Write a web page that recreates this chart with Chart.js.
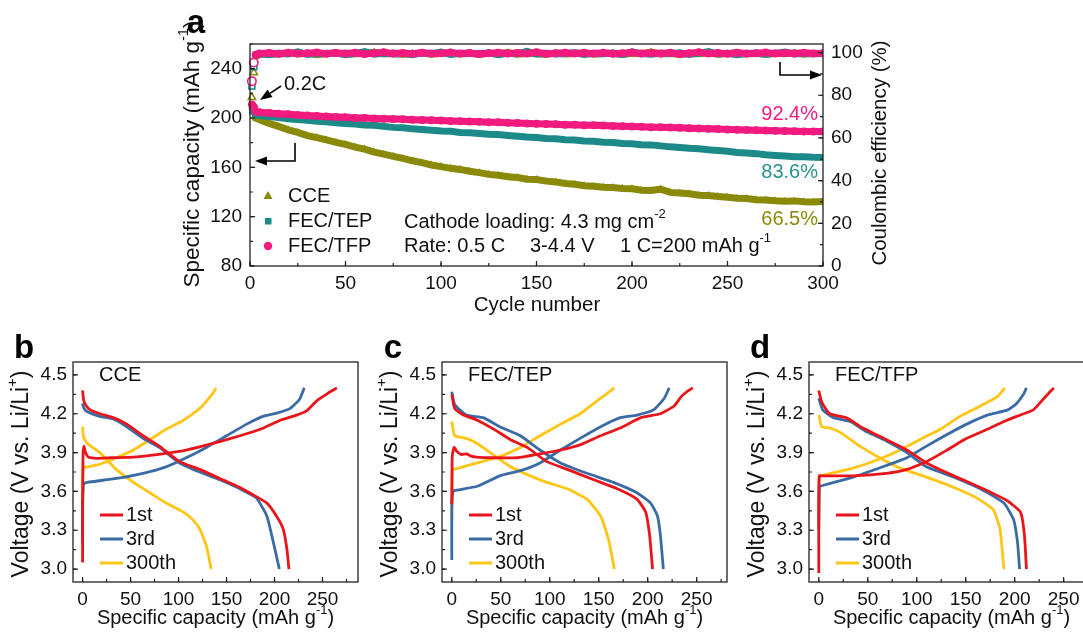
<!DOCTYPE html>
<html>
<head>
<meta charset="utf-8">
<script src="https://cdn.jsdelivr.net/npm/chart.js@4.4.0/dist/chart.umd.min.js"></script>
<style>
  body { margin: 0; background: #fff; width: 1083px; height: 633px; overflow: hidden; position: relative; }
  canvas { position: absolute; }
</style>
</head>
<body>
<canvas id="chart_a" width="790" height="330" style="left:160px;top:0px"></canvas>
<canvas id="chart_b" width="365" height="303" style="left:0px;top:330px"></canvas>
<canvas id="chart_c" width="365" height="303" style="left:369px;top:330px"></canvas>
<canvas id="chart_d" width="365" height="303" style="left:736px;top:330px"></canvas>
<script>
// Panel a: cycling data (cycles 1-2 at 0.2C, then 0.5C)
var cycles = [1,2,3,5,10,15,20,25,30,35,40,45,50,55,60,65,70,75,80,85,90,95,100,105,110,115,120,125,130,135,140,145,150,155,160,165,170,175,180,185,190,195,200,205,210,215,220,225,230,235,240,245,250,255,260,265,270,275,280,285,290,295,300];

var cceCap = [209,207,200,198.5,195.6,193.2,190.4,188.3,185.7,184.1,182.2,180.3,178.6,176.4,174.8,172.3,170.7,168.9,167.2,165.3,163.8,161.9,160.6,159.2,158.3,156.8,155.7,154.3,153.6,152.4,151.7,150.4,150.1,148.8,148.2,146.9,146.3,145.1,144.7,143.8,143.6,142.8,142.6,141.4,141.2,142.3,139.7,139.1,138.6,137.4,137.2,136.3,135.8,134.9,134.7,133.8,133.6,132.9,132.6,132.8,132.1,131.9,132.2];
var tepCap = [205,206,202.5,202.1,201.2,200.3,199.4,198.7,198.1,197.3,196.9,196.2,195.6,195.1,194.3,194.1,193.2,192.4,192.1,191.2,190.6,190.1,189.4,189.2,188.3,188.1,187.4,186.8,186.6,185.9,185.2,184.6,184.2,183.4,183.1,182.4,182.2,181.3,181.1,180.4,180.2,179.4,179.1,178.3,178.2,177.4,176.6,176.1,175.4,175.1,174.2,173.6,173.1,172.1,171.6,171.1,170.2,169.6,169.1,168.6,168.5,168.1,167.9];
var tfpCap = [211,209,205.2,204.6,204.1,203.5,203.1,202.4,202.1,201.6,201.2,200.9,200.6,200.1,199.9,199.6,199.4,199.1,198.9,198.6,198.4,198.1,197.9,197.6,197.4,197.1,196.9,196.6,196.5,196.1,195.9,195.6,195.4,195.2,194.9,194.6,194.5,194.2,194.1,193.9,193.6,193.4,193.1,192.9,192.6,192.5,192.2,192.0,191.7,191.5,191.2,191.0,190.7,190.5,190.2,190.0,189.8,189.6,189.5,189.3,189.1,189.0,189.0];

var cceCE = [79.0,90.6,98.2,99.1,99.6,99.2,99.8,99.3,99.7,99.0,99.5,99.9,99.2,99.6,99.4,100.1,99.3,99.7,99.1,99.6,99.8,99.2,99.5,99.9,99.3,99.6,99.1,99.7,99.4,100.0,99.2,99.6,99.5,99.1,99.8,99.3,99.6,99.9,99.2,99.5,99.7,99.1,99.6,99.4,100.2,99.3,99.6,99.0,99.7,99.4,99.8,99.2,99.5,99.9,99.3,99.6,99.1,99.7,99.4,99.8,99.2,99.5,99.6];
var tepCE = [84.3,93.4,98.6,99.4,99.0,99.7,99.3,100.3,99.1,99.6,99.4,99.8,99.0,99.5,100.4,99.2,99.7,99.3,99.6,99.0,99.8,99.4,100.2,99.1,99.5,99.7,99.3,99.9,99.0,99.6,99.4,100.5,99.2,99.7,99.3,99.5,99.9,99.1,99.6,99.4,99.8,99.0,100.3,99.5,99.2,99.7,99.4,99.9,99.1,99.6,100.4,99.3,99.7,99.0,99.5,99.8,99.2,99.6,100.2,99.3,99.7,99.4,99.5];
var tfpCE = [86.6,95.3,99.0,99.6,99.8,99.4,99.9,99.5,99.7,100.0,99.4,99.8,99.6,99.9,99.3,99.7,100.1,99.5,99.8,99.4,99.9,99.6,99.7,100.0,99.5,99.8,99.3,99.7,99.9,99.5,99.8,99.6,100.1,99.4,99.7,99.9,99.5,99.8,99.6,99.9,99.4,99.7,100.0,99.5,99.8,99.6,99.9,99.3,99.7,100.1,99.5,99.8,99.4,99.9,99.6,99.7,100.0,99.5,99.8,99.6,99.9,99.5,99.7];

var cycleTicks = [0,50,100,150,200,250,300];
var capTicks = [80,120,160,200,240];
var ceTicks = [0,20,40,60,80,100];

// Panels b-d: voltage profiles [capacity, voltage]; C = charge, D = discharge
var cceC1 = [[0,3.05],[0,3.5],[0.5,3.9],[1.5,3.95],[3,3.9],[6,3.865],[15,3.855],[30,3.86],[53,3.865],[77,3.885],[101,3.91],[122,3.945],[143,3.985],[164,4.03],[185,4.08],[206,4.15],[223,4.19],[233,4.22],[244,4.3],[252,4.34],[258,4.37],[265,4.40]];
var cceD1 = [[0,4.38],[1,4.31],[3,4.27],[8,4.23],[18,4.2],[32,4.17],[46,4.12],[63,4.03],[80,3.95],[101,3.83],[122,3.77],[143,3.70],[164,3.63],[181,3.56],[192,3.51],[202,3.41],[209,3.31],[213,3.15],[215,3.0]];
var cceC3 = [[0,3.2],[0,3.45],[1,3.66],[5,3.67],[35,3.70],[63,3.74],[87,3.79],[108,3.86],[129,3.94],[150,4.03],[171,4.12],[188,4.18],[202,4.205],[216,4.24],[226,4.31],[231,4.40]];
var cceD3 = [[0,4.28],[1,4.25],[4,4.22],[18,4.18],[32,4.16],[46,4.10],[63,4.01],[80,3.94],[101,3.82],[122,3.75],[143,3.69],[164,3.62],[181,3.55],[192,3.41],[199,3.2],[205,3.0]];
var cceC300 = [[0,3.5],[0.5,3.78],[5,3.79],[18,3.81],[35,3.86],[53,3.92],[70,4.0],[87,4.08],[105,4.15],[122,4.24],[136,4.36],[139,4.40]];
var cceD300 = [[0,4.1],[1,4.02],[5,3.97],[18,3.9],[35,3.77],[53,3.67],[70,3.59],[87,3.51],[105,3.44],[115,3.38],[122,3.31],[129,3.18],[134,3.0]];

var tepC1 = [[0,3.5],[0.5,3.88],[2.4,3.94],[5,3.91],[10,3.885],[15,3.89],[19,3.875],[25,3.865],[43,3.86],[67,3.86],[90,3.89],[111,3.92],[131,3.96],[152,4.03],[172,4.09],[193,4.17],[213,4.2],[227,4.26],[234,4.33],[240,4.37],[246,4.40]];
var tepD1 = [[0,4.35],[3,4.24],[12,4.19],[26,4.15],[43,4.08],[60,4.0],[77,3.94],[97,3.83],[118,3.77],[145,3.69],[169,3.62],[189,3.54],[198,3.44],[202,3.26],[205,3.0]];
var tepC3 = [[0,3.07],[0,3.45],[1,3.6],[5,3.61],[26,3.64],[49,3.72],[70,3.76],[90,3.82],[111,3.92],[131,4.01],[152,4.1],[172,4.17],[189,4.19],[206,4.23],[217,4.32],[222,4.40]];
var tepD3 = [[0,4.37],[3,4.27],[15,4.19],[32,4.17],[49,4.1],[70,4.03],[90,3.92],[111,3.82],[138,3.74],[165,3.67],[189,3.59],[203,3.51],[210,3.41],[213,3.26],[216,3.0]];
var tepC300 = [[0,3.38],[0.5,3.77],[2,3.77],[26,3.82],[49,3.87],[70,3.94],[90,4.03],[111,4.12],[131,4.2],[152,4.32],[166,4.40]];
var tepD300 = [[0,4.14],[3,4.03],[15,4.01],[26,3.97],[43,3.88],[60,3.79],[77,3.73],[97,3.67],[118,3.62],[138,3.54],[152,3.41],[160,3.23],[166,3.0]];

var tfpC1 = [[0,2.97],[0,3.5],[0.5,3.72],[4,3.72],[35,3.72],[69,3.74],[90,3.77],[110,3.83],[131,3.92],[151,4.01],[172,4.08],[189,4.14],[202,4.18],[219,4.23],[230,4.32],[240,4.40]];
var tfpD1 = [[0,4.38],[3,4.29],[11,4.2],[28,4.17],[45,4.09],[69,4.0],[90,3.92],[110,3.82],[138,3.72],[165,3.63],[192,3.53],[206,3.44],[210,3.26],[212,3.0]];
var tfpC3 = [[0,3.31],[0.5,3.64],[1,3.64],[35,3.71],[69,3.8],[90,3.86],[110,3.95],[131,4.04],[151,4.12],[172,4.19],[193,4.23],[202,4.28],[209,4.35],[212,4.40]];
var tfpD3 = [[0,4.32],[4,4.23],[15,4.17],[32,4.14],[49,4.06],[69,3.99],[90,3.9],[110,3.79],[138,3.71],[165,3.62],[189,3.51],[199,3.38],[203,3.2],[205,3.0]];
var tfpC300 = [[0,3.41],[0.5,3.72],[1,3.72],[35,3.78],[62,3.85],[83,3.92],[103,4.0],[124,4.08],[144,4.18],[165,4.26],[182,4.33],[190,4.40]];
var tfpD300 = [[0,4.19],[3,4.1],[11,4.09],[21,4.06],[42,3.95],[62,3.86],[83,3.78],[110,3.71],[138,3.63],[161,3.55],[178,3.46],[185,3.31],[189,3.0]];

var capxTicks = [0,50,100,150,200,250];
var voltTicks = [3.0,3.3,3.6,3.9,4.2,4.5];

var FONT = "'Liberation Sans', Arial, sans-serif";
var OLIVE = '#8A8A08', TEAL = '#1C8A89', PINK = '#F21A7E';
var RED = '#E8151B', BLUE = '#3B6BA5', YELLOW = '#FFC517';

Chart.defaults.font.family = FONT;
Chart.defaults.font.size = 19;
Chart.defaults.color = '#111';

// text with superscript parts: [[text, isSup], ...]
function richText(ctx, parts, x, y, align, size) {
  var w = 0;
  var widths = parts.map(function (p) {
    ctx.font = (p[1] ? size * 0.65 : size) + 'px ' + FONT;
    var m = ctx.measureText(p[0]).width;
    w += m;
    return m;
  });
  var cx = align === 'center' ? x - w / 2 : (align === 'right' ? x - w : x);
  ctx.textAlign = 'left';
  ctx.textBaseline = 'middle';
  parts.forEach(function (p, i) {
    ctx.font = (p[1] ? size * 0.65 : size) + 'px ' + FONT;
    ctx.fillText(p[0], cx, p[1] ? y - size * 0.4 : y);
    cx += widths[i];
  });
}

function vText(ctx, parts, x, y, size) {
  ctx.save();
  ctx.translate(x, y);
  ctx.rotate(-Math.PI / 2);
  richText(ctx, parts, 0, 0, 'center', size);
  ctx.restore();
}

function arrow(ctx, pts) {
  var n = pts.length;
  var x1 = pts[n - 2][0], y1 = pts[n - 2][1], x2 = pts[n - 1][0], y2 = pts[n - 1][1];
  var ang = Math.atan2(y2 - y1, x2 - x1), L = 12, W = 4.5;
  ctx.save();
  ctx.strokeStyle = '#000'; ctx.fillStyle = '#000'; ctx.lineWidth = 1.6;
  ctx.beginPath();
  ctx.moveTo(pts[0][0], pts[0][1]);
  for (var i = 1; i < n - 1; i++) ctx.lineTo(pts[i][0], pts[i][1]);
  ctx.lineTo(x2 - L * Math.cos(ang), y2 - L * Math.sin(ang));
  ctx.stroke();
  ctx.beginPath();
  ctx.moveTo(x2, y2);
  ctx.lineTo(x2 - L * Math.cos(ang) + W * Math.sin(ang), y2 - L * Math.sin(ang) - W * Math.cos(ang));
  ctx.lineTo(x2 - L * Math.cos(ang) - W * Math.sin(ang), y2 - L * Math.sin(ang) + W * Math.cos(ang));
  ctx.closePath();
  ctx.fill();
  ctx.restore();
}

function frame(chart) {
  var a = chart.chartArea, ctx = chart.ctx;
  ctx.save();
  ctx.strokeStyle = '#222'; ctx.lineWidth = 1.3;
  ctx.strokeRect(a.left, a.top, a.right - a.left, a.bottom - a.top);
  ctx.restore();
}

// inward ticks
function innerTicks(chart, id, step, len) {
  var s = chart.scales[id], a = chart.chartArea, ctx = chart.ctx;
  ctx.save();
  ctx.strokeStyle = '#222'; ctx.lineWidth = 1.2;
  ctx.beginPath();
  for (var k = Math.ceil(s.min / step - 1e-6); k * step <= s.max + 1e-6; k++) {
    var p = s.getPixelForValue(k * step);
    if (s.position === 'left') { ctx.moveTo(a.left, p); ctx.lineTo(a.left + len, p); }
    else if (s.position === 'right') { ctx.moveTo(a.right, p); ctx.lineTo(a.right - len, p); }
    else { ctx.moveTo(p, a.bottom); ctx.lineTo(p, a.bottom - len); }
  }
  ctx.stroke();
  ctx.restore();
}

function setTicks(list) {
  return function (scale) { scale.ticks = list.map(function (v) { return { value: v }; }); };
}
function fixWidth(w) { return function (scale) { scale.width = w; }; }
function fixHeight(h) { return function (scale) { scale.height = h; }; }

function pts(xs, ys) { return xs.map(function (x, i) { return { x: x, y: ys[i] }; }); }

function capSet(label, ys, color, style, r) {
  return {
    label: label, data: pts(cycles, ys), yAxisID: 'y',
    borderColor: color, backgroundColor: color, borderWidth: 7,
    clip: { left: 8, top: 4, right: 0, bottom: 0 },
    pointStyle: style, pointRadius: r, pointBorderWidth: 0, pointBackgroundColor: color
  };
}
function ceSet(label, ys, color, style, r) {
  return {
    label: label, data: pts(cycles, ys), yAxisID: 'y2',
    borderColor: color, backgroundColor: color, borderWidth: 7,
    clip: { left: 8, top: 4, right: 0, bottom: 0 },
    pointStyle: style, pointBorderColor: color,
    pointRadius: function (c) { return c.dataIndex < 2 ? 4.2 : r; },
    pointBorderWidth: function (c) { return c.dataIndex < 2 ? 1.6 : 0; },
    pointBackgroundColor: function (c) { return c.dataIndex < 2 ? '#fff' : color; },
    segment: { borderColor: function (c) { return c.p0DataIndex < 2 ? 'rgba(0,0,0,0)' : color; } }
  };
}

var decoA = {
  id: 'decoA',
  afterDraw: function (chart) {
    var ctx = chart.ctx;
    frame(chart);
    innerTicks(chart, 'x', 25, 3); innerTicks(chart, 'x', 50, 5);
    innerTicks(chart, 'y', 20, 3); innerTicks(chart, 'y', 40, 5);
    innerTicks(chart, 'y2', 10, 3); innerTicks(chart, 'y2', 20, 5);

    ctx.save();
    ctx.fillStyle = '#000';
    ctx.font = 'bold 33px ' + FONT;
    ctx.textAlign = 'center'; ctx.textBaseline = 'alphabetic';
    ctx.fillText('a', 36, 33);

    ctx.fillStyle = '#111';
    vText(ctx, [['Specific capacity (mAh g', 0], ['-1', 1], [')', 0]], 33, 154, 22.5);
    vText(ctx, [['Coulombic efficiency (%)', 0]], 720, 153, 20.5);
    richText(ctx, [['Cycle number', 0]], 377, 305, 'center', 20.5);

    richText(ctx, [['0.2C', 0]], 124, 84, 'left', 20);
    arrow(ctx, [[121, 86], [100, 100]]);
    arrow(ctx, [[135, 143], [135, 161], [95, 161]]);
    arrow(ctx, [[620, 62], [620, 75], [662, 75]]);

    ctx.fillStyle = PINK; richText(ctx, [['92.4%', 0]], 658, 114, 'right', 20);
    ctx.fillStyle = '#27928F'; richText(ctx, [['83.6%', 0]], 658, 172, 'right', 20);
    ctx.fillStyle = OLIVE; richText(ctx, [['66.5%', 0]], 658, 219, 'right', 20);

    ctx.fillStyle = '#111';
    richText(ctx, [['Cathode loading: 4.3 mg cm', 0], ['-2', 1]], 244, 222, 'left', 20);
    richText(ctx, [['Rate: 0.5 C', 0]], 244, 246, 'left', 20);
    richText(ctx, [['3-4.4 V', 0]], 370, 246, 'left', 20);
    richText(ctx, [['1 C=200 mAh g', 0], ['-1', 1]], 460, 246, 'left', 20);

    // legend
    ctx.fillStyle = OLIVE;
    ctx.beginPath(); ctx.moveTo(108, 191); ctx.lineTo(112.5, 199); ctx.lineTo(103.5, 199); ctx.closePath(); ctx.fill();
    ctx.fillStyle = TEAL; ctx.fillRect(105, 218, 6.5, 6.5);
    ctx.fillStyle = PINK; ctx.beginPath(); ctx.arc(108, 246, 4.2, 0, Math.PI * 2); ctx.fill();
    ctx.fillStyle = '#111';
    richText(ctx, [['CCE', 0]], 128, 196, 'left', 20);
    richText(ctx, [['FEC/TEP', 0]], 128, 221, 'left', 20);
    richText(ctx, [['FEC/TFP', 0]], 128, 246, 'left', 20);
    ctx.restore();
  }
};

new Chart(document.getElementById('chart_a'), {
  type: 'line',
  data: {
    datasets: [
      capSet('FEC/TFP', tfpCap, PINK, 'circle', 4),
      capSet('FEC/TEP', tepCap, TEAL, 'rect', 3.8),
      capSet('CCE', cceCap, OLIVE, 'triangle', 4.5),
      ceSet('FEC/TFP CE', tfpCE, PINK, 'circle', 4),
      ceSet('FEC/TEP CE', tepCE, TEAL, 'rect', 3.8),
      ceSet('CCE CE', cceCE, OLIVE, 'triangle', 4.5)
    ]
  },
  options: {
    responsive: false,
    animation: false,
    layout: { padding: { top: 44, right: 0, bottom: 0, left: 0 } },
    plugins: { legend: { display: false }, tooltip: { enabled: false } },
    scales: {
      x: {
        type: 'linear', min: 0, max: 300,
        grid: { display: false, drawTicks: false }, border: { display: false },
        ticks: { padding: 6, autoSkip: false, maxRotation: 0 },
        afterBuildTicks: setTicks(cycleTicks), afterFit: fixHeight(64)
      },
      y: {
        position: 'left', min: 80, max: 260,
        grid: { display: false, drawTicks: false }, border: { display: false },
        ticks: { padding: 8, autoSkip: false },
        afterBuildTicks: setTicks(capTicks), afterFit: fixWidth(90)
      },
      y2: {
        position: 'right', min: 0, max: 104,
        grid: { display: false, drawTicks: false }, border: { display: false },
        ticks: { padding: 8, autoSkip: false },
        afterBuildTicks: setTicks(ceTicks), afterFit: fixWidth(127)
      }
    }
  },
  plugins: [decoA]
});

function curveChart(id, curves, xMax, name, letter) {
  var deco = {
    id: 'deco_' + id,
    afterDraw: function (chart) {
      var ctx = chart.ctx, a = chart.chartArea;
      frame(chart);
      innerTicks(chart, 'x', 25, 3); innerTicks(chart, 'x', 50, 5);
      innerTicks(chart, 'y', 0.15, 3); innerTicks(chart, 'y', 0.3, 5);
      ctx.save();
      ctx.fillStyle = '#000';
      ctx.font = 'bold 33px ' + FONT;
      ctx.textAlign = 'center'; ctx.textBaseline = 'alphabetic';
      ctx.fillText(letter, a.left - 49, 28);
      ctx.fillStyle = '#111';
      vText(ctx, [['Voltage (V vs. Li/Li', 0], ['+', 1], [')', 0]], a.left - 51, 144, 23);
      richText(ctx, [['Specific capacity (mAh g', 0], ['-1', 1], [')', 0]], (a.left + a.right) / 2, 288, 'center', 20);
      richText(ctx, [[name, 0]], a.left + 26, a.top + 13, 'left', 20);
      var leg = [['1st', RED], ['3rd', BLUE], ['300th', YELLOW]];
      leg.forEach(function (l, i) {
        var y = a.top + 153 + i * 24;
        ctx.strokeStyle = l[1]; ctx.lineWidth = 3;
        ctx.beginPath(); ctx.moveTo(a.left + 27, y); ctx.lineTo(a.left + 50, y); ctx.stroke();
        ctx.fillStyle = '#111';
        richText(ctx, [[l[0], 0]], a.left + 53, y, 'left', 20);
      });
      ctx.restore();
    }
  };
  return new Chart(document.getElementById(id), {
    type: 'line',
    data: {
      datasets: curves.map(function (c) {
        return {
          data: c[0].map(function (p) { return { x: p[0], y: p[1] }; }),
          borderColor: c[1], borderWidth: 2.8, pointRadius: 0, tension: 0.15, fill: false
        };
      })
    },
    options: {
      responsive: false,
      animation: false,
      layout: { padding: { top: 32, right: 7, bottom: 0, left: 0 } },
      plugins: { legend: { display: false }, tooltip: { enabled: false } },
      scales: {
        x: {
          type: 'linear', min: -10, max: xMax,
          grid: { display: false, drawTicks: false }, border: { display: false },
          ticks: { padding: 6, autoSkip: false, maxRotation: 0 },
          afterBuildTicks: setTicks(capxTicks), afterFit: fixHeight(51)
        },
        y: {
          min: 2.9, max: 4.6,
          grid: { display: false, drawTicks: false }, border: { display: false },
          ticks: { padding: 6, autoSkip: false, callback: function (v) { return v.toFixed(1); } },
          afterBuildTicks: setTicks(voltTicks), afterFit: fixWidth(73)
        }
      }
    },
    plugins: [deco]
  });
}

curveChart('chart_b', [[cceC1, RED], [cceD1, RED], [cceC3, BLUE], [cceD3, BLUE], [cceC300, YELLOW], [cceD300, YELLOW]], 287, 'CCE', 'b');
curveChart('chart_c', [[tepC1, RED], [tepD1, RED], [tepC3, BLUE], [tepD3, BLUE], [tepC300, YELLOW], [tepD300, YELLOW]], 281, 'FEC/TEP', 'c');
curveChart('chart_d', [[tfpC1, RED], [tfpD1, RED], [tfpC3, BLUE], [tfpD3, BLUE], [tfpC300, YELLOW], [tfpD300, YELLOW]], 281, 'FEC/TFP', 'd');
</script>
</body>
</html>
